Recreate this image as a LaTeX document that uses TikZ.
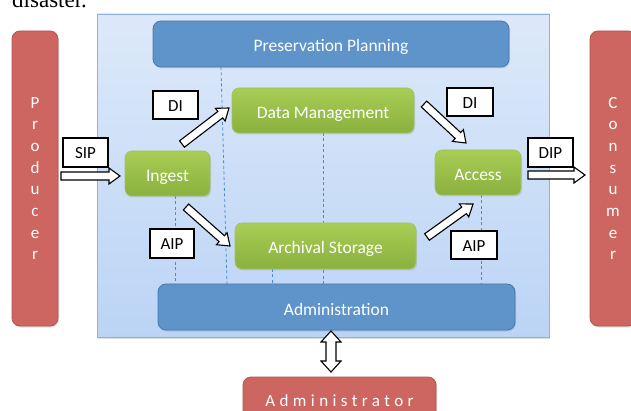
\documentclass[tikz,border=0pt]{standalone}
\usepackage{fontspec}
\setmainfont{Carlito}
\newfontfamily\serifb{Liberation Serif}
\usetikzlibrary{calc,shadows}
\definecolor{bgtop}{HTML}{DDE9FA}
\definecolor{bgbot}{HTML}{BBD4F5}
\definecolor{bgedge}{HTML}{8DB2E2}
\definecolor{bluefill}{HTML}{5E94C9}
\definecolor{blueedge}{HTML}{4879B0}
\definecolor{greentop}{HTML}{A9CD55}
\definecolor{greenbot}{HTML}{8AB03E}
\definecolor{greenedge}{HTML}{A2C45A}
\definecolor{redfill}{HTML}{CD6660}
\definecolor{rededge}{HTML}{B5534D}
\definecolor{dashblue}{HTML}{4A8BD2}

\newcommand\blockarr[2]{%
  \coordinate (ba-b) at ($(#2)!11pt!(#1)$);
  \draw[barrow] ($(#1)!4pt!90:(#2)$) -- ($(ba-b)!4pt!-90:(#1)$) -- ($(ba-b)!8pt!-90:(#1)$)
    -- (#2) -- ($(ba-b)!8pt!90:(#1)$) -- ($(ba-b)!4pt!90:(#1)$) -- ($(#1)!4pt!-90:(#2)$) -- cycle;
}
\newcommand\dblarr[2]{%
  \coordinate (da-a) at ($(#1)!11pt!(#2)$);
  \coordinate (da-b) at ($(#2)!11pt!(#1)$);
  \draw[barrow] (#1) -- ($(da-a)!10pt!90:(#2)$) -- ($(da-a)!5pt!90:(#2)$) -- ($(da-b)!5pt!-90:(#1)$)
    -- ($(da-b)!10pt!-90:(#1)$) -- (#2) -- ($(da-b)!10pt!90:(#1)$) -- ($(da-b)!5pt!90:(#1)$)
    -- ($(da-a)!5pt!-90:(#2)$) -- ($(da-a)!10pt!-90:(#2)$) -- cycle;
}

\tikzset{
  shad/.style={drop shadow={opacity=0.25,shadow xshift=1pt,shadow yshift=-1.5pt}},
  bgbox/.style={draw=bgedge, line width=0.8pt, top color=bgtop, bottom color=bgbot, inner sep=0pt, shad},
  bluebox/.style={draw=blueedge, line width=0.8pt, fill=bluefill, rounded corners=8pt, text=white,
    font=\fontsize{17.5}{20}\selectfont, inner sep=0pt, text height=16pt, text depth=0pt, shad},
  greenbox/.style={draw=greenedge, line width=0.6pt, top color=greentop, bottom color=greenbot,
    rounded corners=7pt, text=white, font=\fontsize{17.5}{20}\selectfont, inner sep=0pt,
    text height=16pt, text depth=0pt, shad},
  redbox/.style={draw=rededge, line width=0.8pt, fill=redfill, rounded corners=8pt, text=white,
    font=\fontsize{17}{21.7}\selectfont, inner sep=0pt, shad},
  lbl/.style={draw=black, fill=white, line width=1.2pt, inner sep=0pt, text=black,
    font=\fontsize{17}{20}\selectfont, text height=13pt, text depth=0pt},
  barrow/.style={draw=black, fill=white, line width=1.1pt, line join=miter},
  dashline/.style={dashblue, line width=0.8pt, dash pattern=on 3pt off 2.5pt},
}

\begin{document}
\begin{tikzpicture}[x=1pt,y=-1pt]
\clip (0,0) rectangle (631,411);
\fill[white] (0,0) rectangle (631,411);

\node[anchor=base west, inner sep=0pt, font=\serifb\fontsize{23}{23}\selectfont] (dis) at (12,7.3) {disaster.};

% background
\node[bgbox, minimum width=452pt, minimum height=323pt] (bg) at (323,175.5) {};

% dashed lines
\coordinate (l1t) at (221,67);  \coordinate (l1b) at (227,284);
\coordinate (l2t) at (175,196); \coordinate (l2b) at (175,284);
\coordinate (l3t) at (323,133); \coordinate (l3b) at (323,284);
\coordinate (l4t) at (272,269); \coordinate (l4b) at (272,284);
\coordinate (l5t) at (481,195); \coordinate (l5b) at (481,284);
\foreach \a/\b in {l1t/l1b,l2t/l2b,l3t/l3b,l4t/l4b,l5t/l5b} \draw[dashline] (\a) -- (\b);

% outer boxes
\node[redbox, minimum width=46pt, minimum height=295pt, align=center] (prod) at (35,178.5)
  {P\\r\\o\\d\\u\\c\\e\\r};
\node[redbox, minimum width=46pt, minimum height=295pt, align=center] (cons) at (613,178.5)
  {C\\o\\n\\s\\u\\m\\e\\r};
\node[redbox, minimum width=193pt, minimum height=43pt, text height=15pt, text depth=0pt,
  font=\fontsize{17}{20}\selectfont\addfontfeature{LetterSpace=26}] (admr) at (339.5,398.5)
  {Administrator};

% functional boxes
\node[bluebox, minimum width=356pt, minimum height=46pt] (pres) at (331,44) {Preservation Planning};
\node[bluebox, minimum width=357pt, minimum height=46pt] (adm) at (336.5,307) {Administration};
\node[greenbox, minimum width=182pt, minimum height=45pt] (dm) at (323,110.5) {Data Management};
\node[greenbox, minimum width=85pt, minimum height=45pt] (ing) at (167.5,173.5) {Ingest};
\node[greenbox, minimum width=86pt, minimum height=45pt] (acc) at (478,172.5) {Access};
\node[greenbox, minimum width=181pt, minimum height=46pt] (arc) at (325.5,246) {Archival Storage};

% labels
\node[lbl, minimum width=45pt, minimum height=28pt] (di1) at (175.5,105) {DI};
\node[lbl, minimum width=46pt, minimum height=28pt] (di2) at (470,102) {DI};
\node[lbl, minimum width=45pt, minimum height=29pt] (sip) at (85.5,152.5) {SIP};
\node[lbl, minimum width=44pt, minimum height=29pt] (aip1) at (172,243.5) {AIP};
\node[lbl, minimum width=46pt, minimum height=28pt] (aip2) at (474,245) {AIP};
\node[lbl, minimum width=45pt, minimum height=29pt] (dip) at (550.5,152.5) {DIP};

% block arrows
\coordinate (a1s) at (61,176);  \coordinate (a1e) at (120,176);
\coordinate (a2s) at (528,175); \coordinate (a2e) at (585,175);
\coordinate (a3s) at (182,144); \coordinate (a3e) at (229,108);
\coordinate (a4s) at (186,207); \coordinate (a4e) at (230,246);
\coordinate (a5s) at (424,104); \coordinate (a5e) at (466,143);
\coordinate (a6s) at (427,237); \coordinate (a6e) at (473,204);
\coordinate (a7s) at (331,331); \coordinate (a7e) at (331,372);
\blockarr{a1s}{a1e}
\blockarr{a2s}{a2e}
\blockarr{a3s}{a3e}
\blockarr{a4s}{a4e}
\blockarr{a5s}{a5e}
\blockarr{a6s}{a6e}
\dblarr{a7s}{a7e}
\end{tikzpicture}
\end{document}
